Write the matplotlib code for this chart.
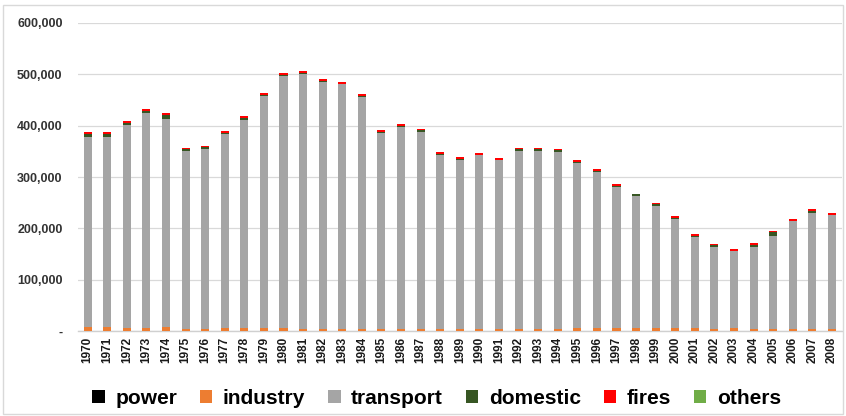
import matplotlib.pyplot as plt
import numpy as np
from matplotlib.patches import Patch, Rectangle
from matplotlib.ticker import FuncFormatter

# emissions by source, thousands of tonnes
years = list(range(1970, 2009))
power = [0.2] * 39
industry = [8.5, 8.5, 6.5, 6.5, 8.5, 4, 4, 6.5, 6.5, 6.5, 6.5, 4, 4, 4, 4, 4, 4, 4, 4, 4,
            4, 4, 4, 4, 4, 6, 6, 6, 6, 6, 6, 6, 4, 6, 4, 4, 4, 4, 4]
transport = [369.1, 369.1, 394.1, 417.1, 405.1, 346.6, 350.6, 376.1, 404.1, 451.1,
             490.1, 497.1, 481.1, 476.1, 451.6, 381.6, 393.6, 383.6, 338.6, 329.6,
             338.6, 328.1, 346.6, 345.6, 343.6, 321.6, 302.6, 273.6, 256.6, 237.1,
             212.6, 177.6, 158.6, 149.6, 158.6, 181.6, 209.6, 226.6, 221.1]
domestic = [6, 6, 5, 5, 7, 3, 3, 3, 5, 2, 2, 1.5, 1.5, 1.5, 2, 2, 2, 3, 2, 2,
            1, 1.5, 3, 4, 4, 2, 3, 3, 3.5, 3.5, 2, 2, 5, 1, 5, 7, 1, 4, 1.5]
fires = [3, 3, 3, 3, 3, 3, 3, 3, 3, 3, 3, 3, 3, 3, 3, 3,
         3, 3, 3, 3, 3, 3, 3, 3, 3, 3, 3, 3, 0.5, 3, 4, 3,
         1, 3, 3, 2, 3, 3, 3]
others = [0.2] * 39

series = [('power', power, '#000000'),
          ('industry', industry, '#ED7D31'),
          ('transport', transport, '#A5A5A5'),
          ('domestic', domestic, '#375623'),
          ('fires', fires, '#FF0000'),
          ('others', others, '#70AD47')]

plt.rcParams['font.family'] = ['Liberation Sans', 'DejaVu Sans']

fig = plt.figure(figsize=(8.46, 4.16), dpi=100)
ax = fig.add_axes([0.092, 0.204, 0.903, 0.741])

x = np.arange(len(years))
bottom = np.zeros(len(years))
for name, vals, col in series:
    v = np.array(vals) * 1000
    ax.bar(x, v, 0.41, bottom=bottom, color=col, label=name, zorder=3)
    bottom += v

ax.set_xlim(-0.5, len(years) - 0.5)
ax.set_ylim(0, 600000)
ax.set_yticks(np.arange(0, 600001, 100000))
ax.yaxis.set_major_formatter(FuncFormatter(lambda v, p: '-' if v == 0 else f'{int(v):,}'))
ax.set_xticks(x)
ax.set_xticklabels([str(y) for y in years], rotation=90, fontsize=8.5,
                   fontweight='bold', color='#1a1a1a')
for lab in ax.get_yticklabels():
    lab.set_fontweight('bold')
    lab.set_fontsize(9)
    lab.set_color('#333333')
ax.tick_params(axis='both', length=0)
ax.tick_params(axis='y', pad=11)
ax.tick_params(axis='x', pad=4)
ax.grid(axis='y', color='#d9d9d9', linewidth=0.9, zorder=0)
for s in ['top', 'right', 'left']:
    ax.spines[s].set_visible(False)
ax.spines['bottom'].set_color('#d0d0d0')
ax.spines['bottom'].set_linewidth(1)

handles = [Patch(facecolor=c, edgecolor='none') for _, _, c in series]
fig.legend(handles, [n for n, _, _ in series], loc='center', ncol=6,
           bbox_to_anchor=(0.516, 0.043), frameon=False,
           prop={'weight': 'bold', 'size': 15},
           handlelength=0.6, handleheight=0.6, handletextpad=0.5, columnspacing=1.1)

fig.add_artist(Rectangle((0.004, 0.004), 0.992, 0.984, transform=fig.transFigure,
                         fill=False, edgecolor='#d9d9d9', linewidth=1))

fig.savefig('out.png', dpi=100)
